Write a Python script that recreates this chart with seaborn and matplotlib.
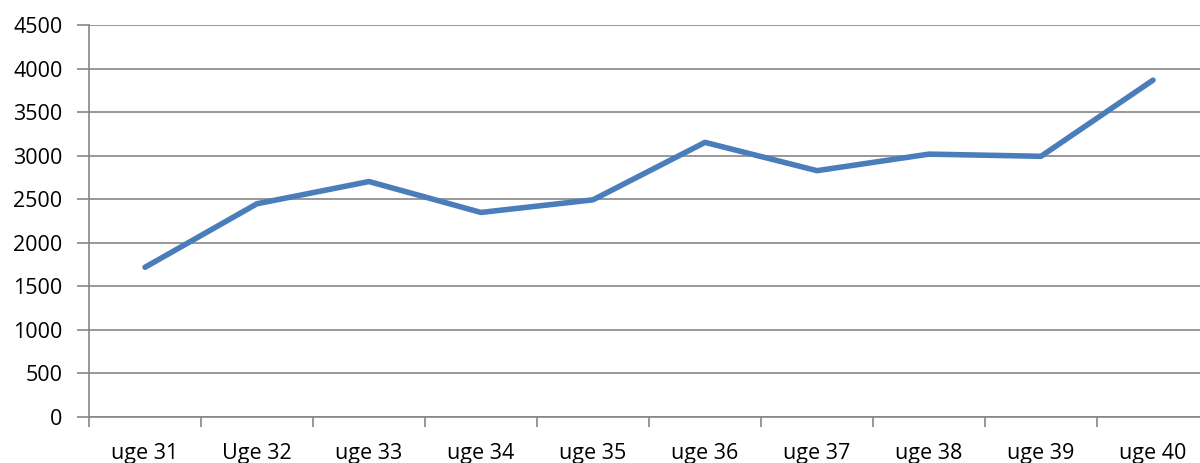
import pandas as pd
import seaborn as sns
import matplotlib.pyplot as plt
from matplotlib.ticker import FixedLocator

weeks = ['uge 31', 'Uge 32', 'uge 33', 'uge 34', 'uge 35',
         'uge 36', 'uge 37', 'uge 38', 'uge 39', 'uge 40']
values = [1720, 2450, 2705, 2350, 2495, 3155, 2830, 3020, 2995, 3870]

df = pd.DataFrame({'week': weeks, 'value': values})

sns.set_style('white')
plt.rcParams['font.family'] = ['Open Sans', 'DejaVu Sans']

fig = plt.figure(figsize=(12, 4.63), dpi=100)
ax = fig.add_axes([89 / 1200, 1 - 417 / 463, 1120 / 1200, (417 - 25.3) / 463])

sns.lineplot(data=df, x='week', y='value', ax=ax, color='#4a7ebb',
             linewidth=4, sort=False, solid_capstyle='round')

grid_color = '#868686'
ax.set_xlim(-0.5, len(weeks) - 0.5)
ax.set_ylim(0, 4500)
ax.set_yticks(range(0, 4501, 500))
ax.yaxis.grid(True, color=grid_color, linewidth=1.2)
ax.set_axisbelow(True)
ax.set_xlabel('')
ax.set_ylabel('')

for side in ['top', 'right']:
    ax.spines[side].set_visible(False)
for side in ['left', 'bottom']:
    ax.spines[side].set_color(grid_color)
    ax.spines[side].set_linewidth(1.2)

ax.xaxis.set_minor_locator(FixedLocator([i - 0.5 for i in range(len(weeks) + 1)]))
ax.tick_params(axis='x', which='major', length=0, pad=19, labelsize=15.5,
               labelcolor='#000000')
ax.tick_params(axis='x', which='minor', length=7, width=1.2, color=grid_color,
               direction='out', bottom=True)
ax.tick_params(axis='y', length=9, width=1.2, color=grid_color, left=True,
               pad=10, labelsize=15.5, labelcolor='#000000')

fig.savefig('out.png', dpi=100)
